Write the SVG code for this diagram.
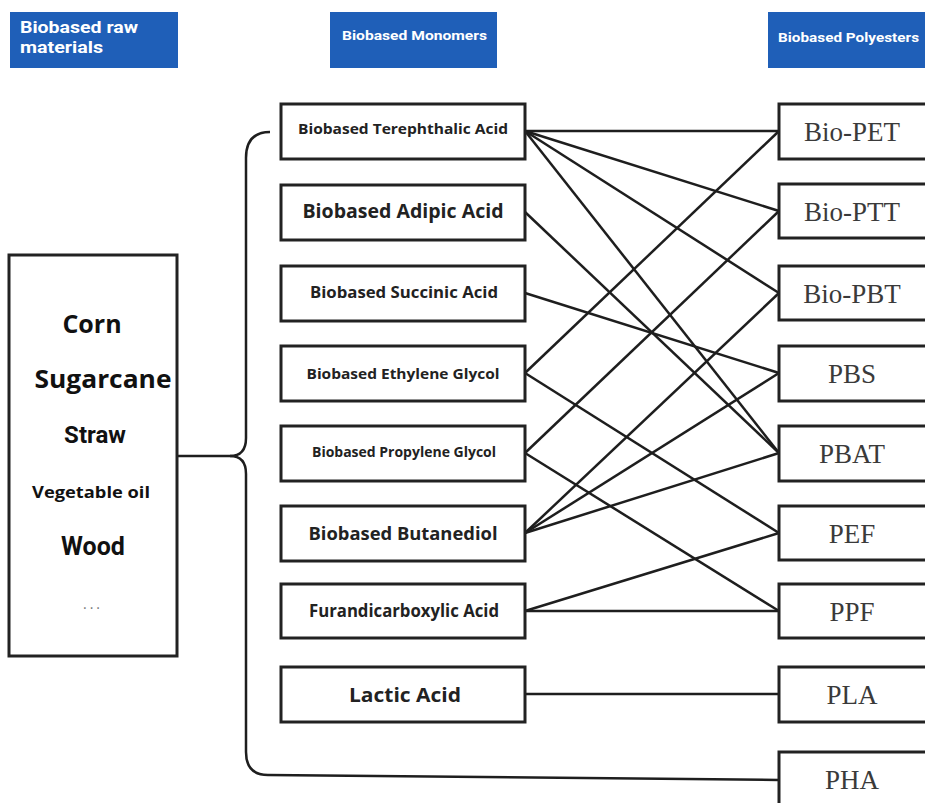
<svg xmlns="http://www.w3.org/2000/svg" width="925" height="803" viewBox="0 0 925 803">
<style>
.hdr{fill:#1f5fb8}
.ht{fill:#fff;font-family:Roboto,"Liberation Sans",sans-serif;font-weight:bold}
.box{fill:#fff;stroke:#222;stroke-width:3}
.mt{fill:#222;font-family:"Open Sans","Noto Sans",sans-serif;font-weight:bold;text-anchor:middle}
.pt{fill:#3a3a3a;font-family:"Liberation Serif","Times New Roman",serif;font-size:27px;text-anchor:middle}
.rt{fill:#111;font-family:"Open Sans","Noto Sans",sans-serif;font-weight:bold;text-anchor:middle}
.rr{fill:#111;font-family:Roboto,"Liberation Sans",sans-serif;font-weight:bold;text-anchor:middle}
.ln{fill:none;stroke:#1e1e1e;stroke-width:2.5}
</style>
<rect width="925" height="803" fill="#fff"/>
<g id="headers">
<g id="h-raw"><rect class="hdr" x="10" y="12" width="168" height="56"/>
<text class="ht" x="20" y="33" font-size="17" textLength="118" lengthAdjust="spacingAndGlyphs">Biobased raw</text>
<text class="ht" x="20" y="53" font-size="17" textLength="83" lengthAdjust="spacingAndGlyphs">materials</text></g>
<g id="h-mono"><rect class="hdr" x="330" y="12" width="167" height="56"/>
<text class="ht" x="342" y="40" font-size="13" textLength="145" lengthAdjust="spacingAndGlyphs">Biobased Monomers</text></g>
<g id="h-poly"><rect class="hdr" x="768" y="12" width="160" height="56"/>
<text class="ht" x="778" y="42" font-size="13" textLength="141" lengthAdjust="spacingAndGlyphs">Biobased Polyesters</text></g>
</g>
<g id="connectors">
<path class="ln" d="M176 456 H230 Q246 456 246 438 V158 Q246 132 270 132"/>
<path class="ln" d="M230 456 Q246 456 246 474 V752 Q246 775 268 775 L779 780"/>
<line class="ln" x1="525" y1="131" x2="779" y2="131"/>
<line class="ln" x1="525" y1="131" x2="779" y2="211"/>
<line class="ln" x1="525" y1="131" x2="779" y2="293"/>
<line class="ln" x1="525" y1="131" x2="779" y2="453"/>
<line class="ln" x1="525" y1="212" x2="779" y2="453"/>
<line class="ln" x1="525" y1="293" x2="779" y2="373"/>
<line class="ln" x1="525" y1="373" x2="779" y2="131"/>
<line class="ln" x1="525" y1="373" x2="779" y2="533"/>
<line class="ln" x1="525" y1="453" x2="779" y2="211"/>
<line class="ln" x1="525" y1="453" x2="779" y2="611"/>
<line class="ln" x1="525" y1="533" x2="779" y2="293"/>
<line class="ln" x1="525" y1="533" x2="779" y2="373"/>
<line class="ln" x1="525" y1="533" x2="779" y2="453"/>
<line class="ln" x1="525" y1="611" x2="779" y2="533"/>
<line class="ln" x1="525" y1="611" x2="779" y2="611"/>
<line class="ln" x1="525" y1="694" x2="779" y2="694"/>
</g>
<g id="raw">
<rect class="box" x="9" y="255" width="168" height="401"/>
<text class="rt" x="92" y="333" font-size="25">Corn</text>
<text class="rt" x="103" y="388" font-size="25" textLength="137" lengthAdjust="spacingAndGlyphs">Sugarcane</text>
<text class="rr" x="95" y="443" font-size="24">Straw</text>
<text class="rt" x="91" y="498" font-size="16" textLength="118" lengthAdjust="spacingAndGlyphs">Vegetable oil</text>
<text class="rr" x="93" y="555" font-size="25">Wood</text>
<text x="93" y="609" font-size="14" fill="#777" text-anchor="middle" letter-spacing="3" font-family="'Open Sans',sans-serif">...</text>
</g>
<g id="m-tpa"><rect class="box" x="281" y="104" width="244" height="55"/><text class="mt" x="403" y="134" font-size="14" textLength="210" lengthAdjust="spacingAndGlyphs">Biobased Terephthalic Acid</text></g>
<g id="m-adipic"><rect class="box" x="281" y="185" width="244" height="55"/><text class="mt" x="403" y="218" font-size="19" textLength="201" lengthAdjust="spacingAndGlyphs">Biobased Adipic Acid</text></g>
<g id="m-succinic"><rect class="box" x="281" y="266" width="244" height="55"/><text class="mt" x="404" y="298" font-size="16" textLength="188" lengthAdjust="spacingAndGlyphs">Biobased Succinic Acid</text></g>
<g id="m-eg"><rect class="box" x="281" y="346" width="244" height="55"/><text class="mt" x="403" y="379" font-size="15" textLength="193" lengthAdjust="spacingAndGlyphs">Biobased Ethylene Glycol</text></g>
<g id="m-pg"><rect class="box" x="281" y="426" width="244" height="55"/><text class="mt" x="404" y="457" font-size="15" textLength="184" lengthAdjust="spacingAndGlyphs">Biobased Propylene Glycol</text></g>
<g id="m-bdo"><rect class="box" x="281" y="506" width="244" height="55"/><text class="mt" x="403" y="540" font-size="18" textLength="189" lengthAdjust="spacingAndGlyphs">Biobased Butanediol</text></g>
<g id="m-fdca"><rect class="box" x="281" y="584" width="244" height="54"/><text class="mt" x="404" y="617" font-size="17" textLength="190" lengthAdjust="spacingAndGlyphs">Furandicarboxylic Acid</text></g>
<g id="m-lactic"><rect class="box" x="281" y="667" width="244" height="55"/><text class="mt" x="405" y="702" font-size="20" textLength="112" lengthAdjust="spacingAndGlyphs">Lactic Acid</text></g>
<g id="p-pet"><rect class="box" x="779" y="104" width="160" height="55"/><text class="pt" x="852" y="141">Bio-PET</text></g>
<g id="p-ptt"><rect class="box" x="779" y="184" width="160" height="54"/><text class="pt" x="852" y="221">Bio-PTT</text></g>
<g id="p-pbt"><rect class="box" x="779" y="266" width="160" height="54"/><text class="pt" x="852" y="303">Bio-PBT</text></g>
<g id="p-pbs"><rect class="box" x="779" y="346" width="160" height="55"/><text class="pt" x="852" y="383">PBS</text></g>
<g id="p-pbat"><rect class="box" x="779" y="426" width="160" height="55"/><text class="pt" x="852" y="463">PBAT</text></g>
<g id="p-pef"><rect class="box" x="779" y="506" width="160" height="54"/><text class="pt" x="852" y="543">PEF</text></g>
<g id="p-ppf"><rect class="box" x="779" y="584" width="160" height="54"/><text class="pt" x="852" y="621">PPF</text></g>
<g id="p-pla"><rect class="box" x="779" y="667" width="160" height="55"/><text class="pt" x="852" y="704">PLA</text></g>
<g id="p-pha"><rect class="box" x="779" y="752" width="160" height="60"/><text class="pt" x="852" y="789">PHA</text></g>
</svg>
